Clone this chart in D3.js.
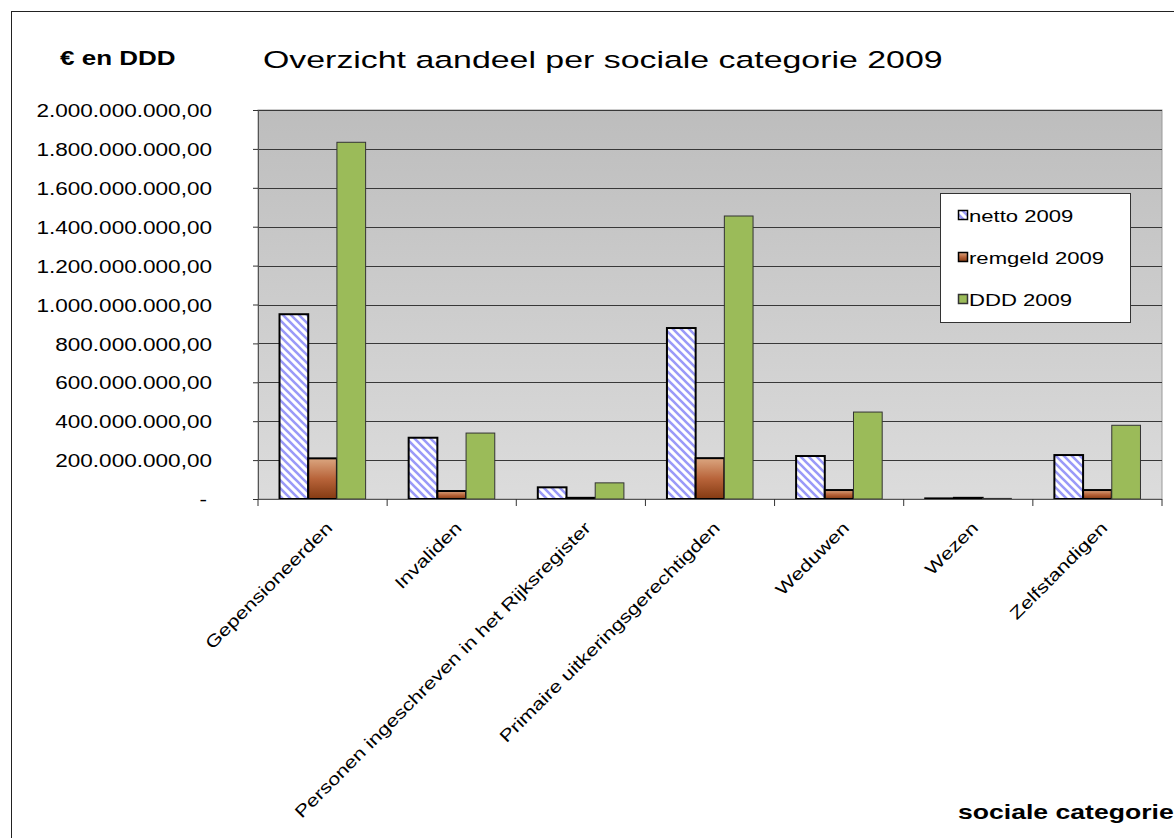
<!DOCTYPE html>
<html>
<head>
<meta charset="utf-8">
<script src="https://cdn.jsdelivr.net/npm/d3@7"></script>
<style>
  body { margin: 0; background: #fff; }
  svg { display: block; font-family: "Liberation Sans", Arial, sans-serif; }
</style>
</head>
<body>
<svg width="1174" height="838"></svg>
<script>
// values in millions of euro / DDD
let categories = ["Gepensioneerden", "Invaliden", "Personen ingeschreven in het Rijksregister",
                  "Primaire uitkeringsgerechtigden", "Weduwen", "Wezen", "Zelfstandigen"];
let series = ["netto 2009", "remgeld 2009", "DDD 2009"];
let netto   = [950, 315, 60, 879, 221, 3, 226];
let remgeld = [209, 41, 6, 210, 46, 6, 46];
let ddd     = [1834, 339, 83, 1455, 447, 3, 379];
let yTicks  = [0, 200, 400, 600, 800, 1000, 1200, 1400, 1600, 1800, 2000];

var svg = d3.select("svg");
var plot = {left: 258, right: 1162, top: 110, bottom: 499};
var SX = 1.27; // original text is drawn wide

var defs = svg.append("defs");
var bg = defs.append("linearGradient").attr("id", "plotbg")
    .attr("x1", 0).attr("y1", 0).attr("x2", 0).attr("y2", 1);
bg.append("stop").attr("offset", "0%").attr("stop-color", "#bdbdbd");
bg.append("stop").attr("offset", "100%").attr("stop-color", "#dcdcdc");

var brown = defs.append("linearGradient").attr("id", "brown")
    .attr("x1", 0).attr("y1", 0).attr("x2", 0).attr("y2", 1);
brown.append("stop").attr("offset", "0%").attr("stop-color", "#dba680");
brown.append("stop").attr("offset", "50%").attr("stop-color", "#b8643a");
brown.append("stop").attr("offset", "100%").attr("stop-color", "#843a12");

var hatch = defs.append("pattern").attr("id", "hatch")
    .attr("patternUnits", "userSpaceOnUse").attr("width", 8).attr("height", 8);
hatch.append("rect").attr("width", 8).attr("height", 8).attr("fill", "#fff");
hatch.append("path").attr("d", "M-2,-2 L10,10 M-2,6 L2,10 M6,-2 L10,2")
    .attr("stroke", "#9a9af8").attr("stroke-width", 2.6);

var fills = ["url(#hatch)", "url(#brown)", "#9bbb59"];
var strokes = ["#000", "#000", "#333"];
var strokeW = [2, 2, 1];

// outer chart border (runs off the window)
svg.append("rect").attr("x", 11.5).attr("y", 11.5).attr("width", 1200).attr("height", 900)
    .attr("fill", "none").attr("stroke", "#222");

var x0 = d3.scaleBand().domain(categories).range([plot.left, plot.right]);
var x1 = d3.scaleBand().domain(series).range([0, x0.bandwidth()]).paddingOuter(0.75);
var y = d3.scaleLinear().domain([0, 2000]).range([plot.bottom, plot.top]);

svg.append("rect").attr("x", plot.left).attr("y", plot.top)
    .attr("width", plot.right - plot.left).attr("height", plot.bottom - plot.top)
    .attr("fill", "url(#plotbg)").attr("stroke", "#999");

// gridlines
svg.append("g").selectAll("line").data(yTicks.slice(1)).enter().append("line")
    .attr("x1", plot.left).attr("x2", plot.right)
    .attr("y1", d => Math.round(y(d)) + 0.5).attr("y2", d => Math.round(y(d)) + 0.5)
    .attr("stroke", "#383838");

// bars
var values = [netto, remgeld, ddd];
var groups = svg.append("g").selectAll("g").data(series).enter().append("g");
groups.each(function(s, si) {
  d3.select(this).selectAll("rect").data(values[si]).enter().append("rect")
    .attr("x", (d, i) => x0(categories[i]) + x1(s))
    .attr("width", x1.bandwidth())
    .attr("y", d => y(d))
    .attr("height", d => y(0) - y(d))
    .attr("fill", fills[si])
    .attr("stroke", strokes[si])
    .attr("stroke-width", strokeW[si]);
});

// axes
var fmt = d3.formatLocale({decimal: ",", thousands: ".", grouping: [3], currency: ["€", ""]});
var yAxis = d3.axisLeft(y).tickValues(yTicks).tickSize(5).tickPadding(0)
    .tickFormat(d => d === 0 ? "-" : fmt.format(",.2f")(d * 1e6));
var ya = svg.append("g").attr("transform", "translate(" + plot.left + ",0)").call(yAxis);
ya.select(".domain").attr("stroke", "#555");
ya.selectAll(".tick line").attr("stroke", "#333");
ya.selectAll(".tick text")
    .attr("x", d => (d === 0 ? -51 : -46) / 1.22).attr("dy", "0.36em")
    .attr("transform", "scale(1.22,1)")
    .attr("font-size", 18.5).attr("fill", "#000").attr("font-family", null);

svg.append("line").attr("x1", plot.left).attr("x2", plot.right)
    .attr("y1", plot.bottom + 0.5).attr("y2", plot.bottom + 0.5).attr("stroke", "#555");
svg.append("g").selectAll("line").data(categories.concat(["end"])).enter().append("line")
    .attr("x1", (d, i) => plot.left + i * x0.step()).attr("x2", (d, i) => plot.left + i * x0.step())
    .attr("y1", plot.bottom).attr("y2", plot.bottom + 7).attr("stroke", "#333");

// category labels
svg.append("g").selectAll("text").data(categories).enter().append("text")
    .attr("transform", d => "translate(" + (x0(d) + x0.bandwidth() / 2 + 11) + "," + (plot.bottom + 30) + ") rotate(-45) scale(" + SX + ",1)")
    .attr("text-anchor", "end").attr("font-size", 17).text(d => d);

// titles
var title = svg.append("text").attr("font-size", 23.5)
    .text("Overzicht aandeel per sociale categorie 2009");
var tw = title.node().getComputedTextLength();
title.attr("transform", "translate(263,68) scale(" + (680 / tw) + ",1)");
svg.append("text").attr("transform", "translate(60,65) scale(1.3,1)")
    .attr("font-size", 20).attr("font-weight", "bold").text("€ en DDD");
svg.append("text").attr("transform", "translate(958,819) scale(1.33,1)")
    .attr("font-size", 20).attr("font-weight", "bold").text("sociale categorie");

// legend
var lg = svg.append("g");
lg.append("rect").attr("x", 940.5).attr("y", 193.5).attr("width", 190).attr("height", 129)
    .attr("fill", "#fff").attr("stroke", "#333");
var items = lg.selectAll("g").data(series).enter().append("g")
    .attr("transform", (d, i) => "translate(958," + (222 + i * 42) + ")");
items.append("rect").attr("x", 0.5).attr("y", -11.5).attr("width", 9).attr("height", 9)
    .attr("fill", (d, i) => fills[i]).attr("stroke", (d, i) => strokes[i]).attr("stroke-width", 1.5);
items.append("text").attr("transform", "translate(11,0) scale(1.3,1)")
    .attr("font-size", 17).text(d => d);
</script>
</body>
</html>
